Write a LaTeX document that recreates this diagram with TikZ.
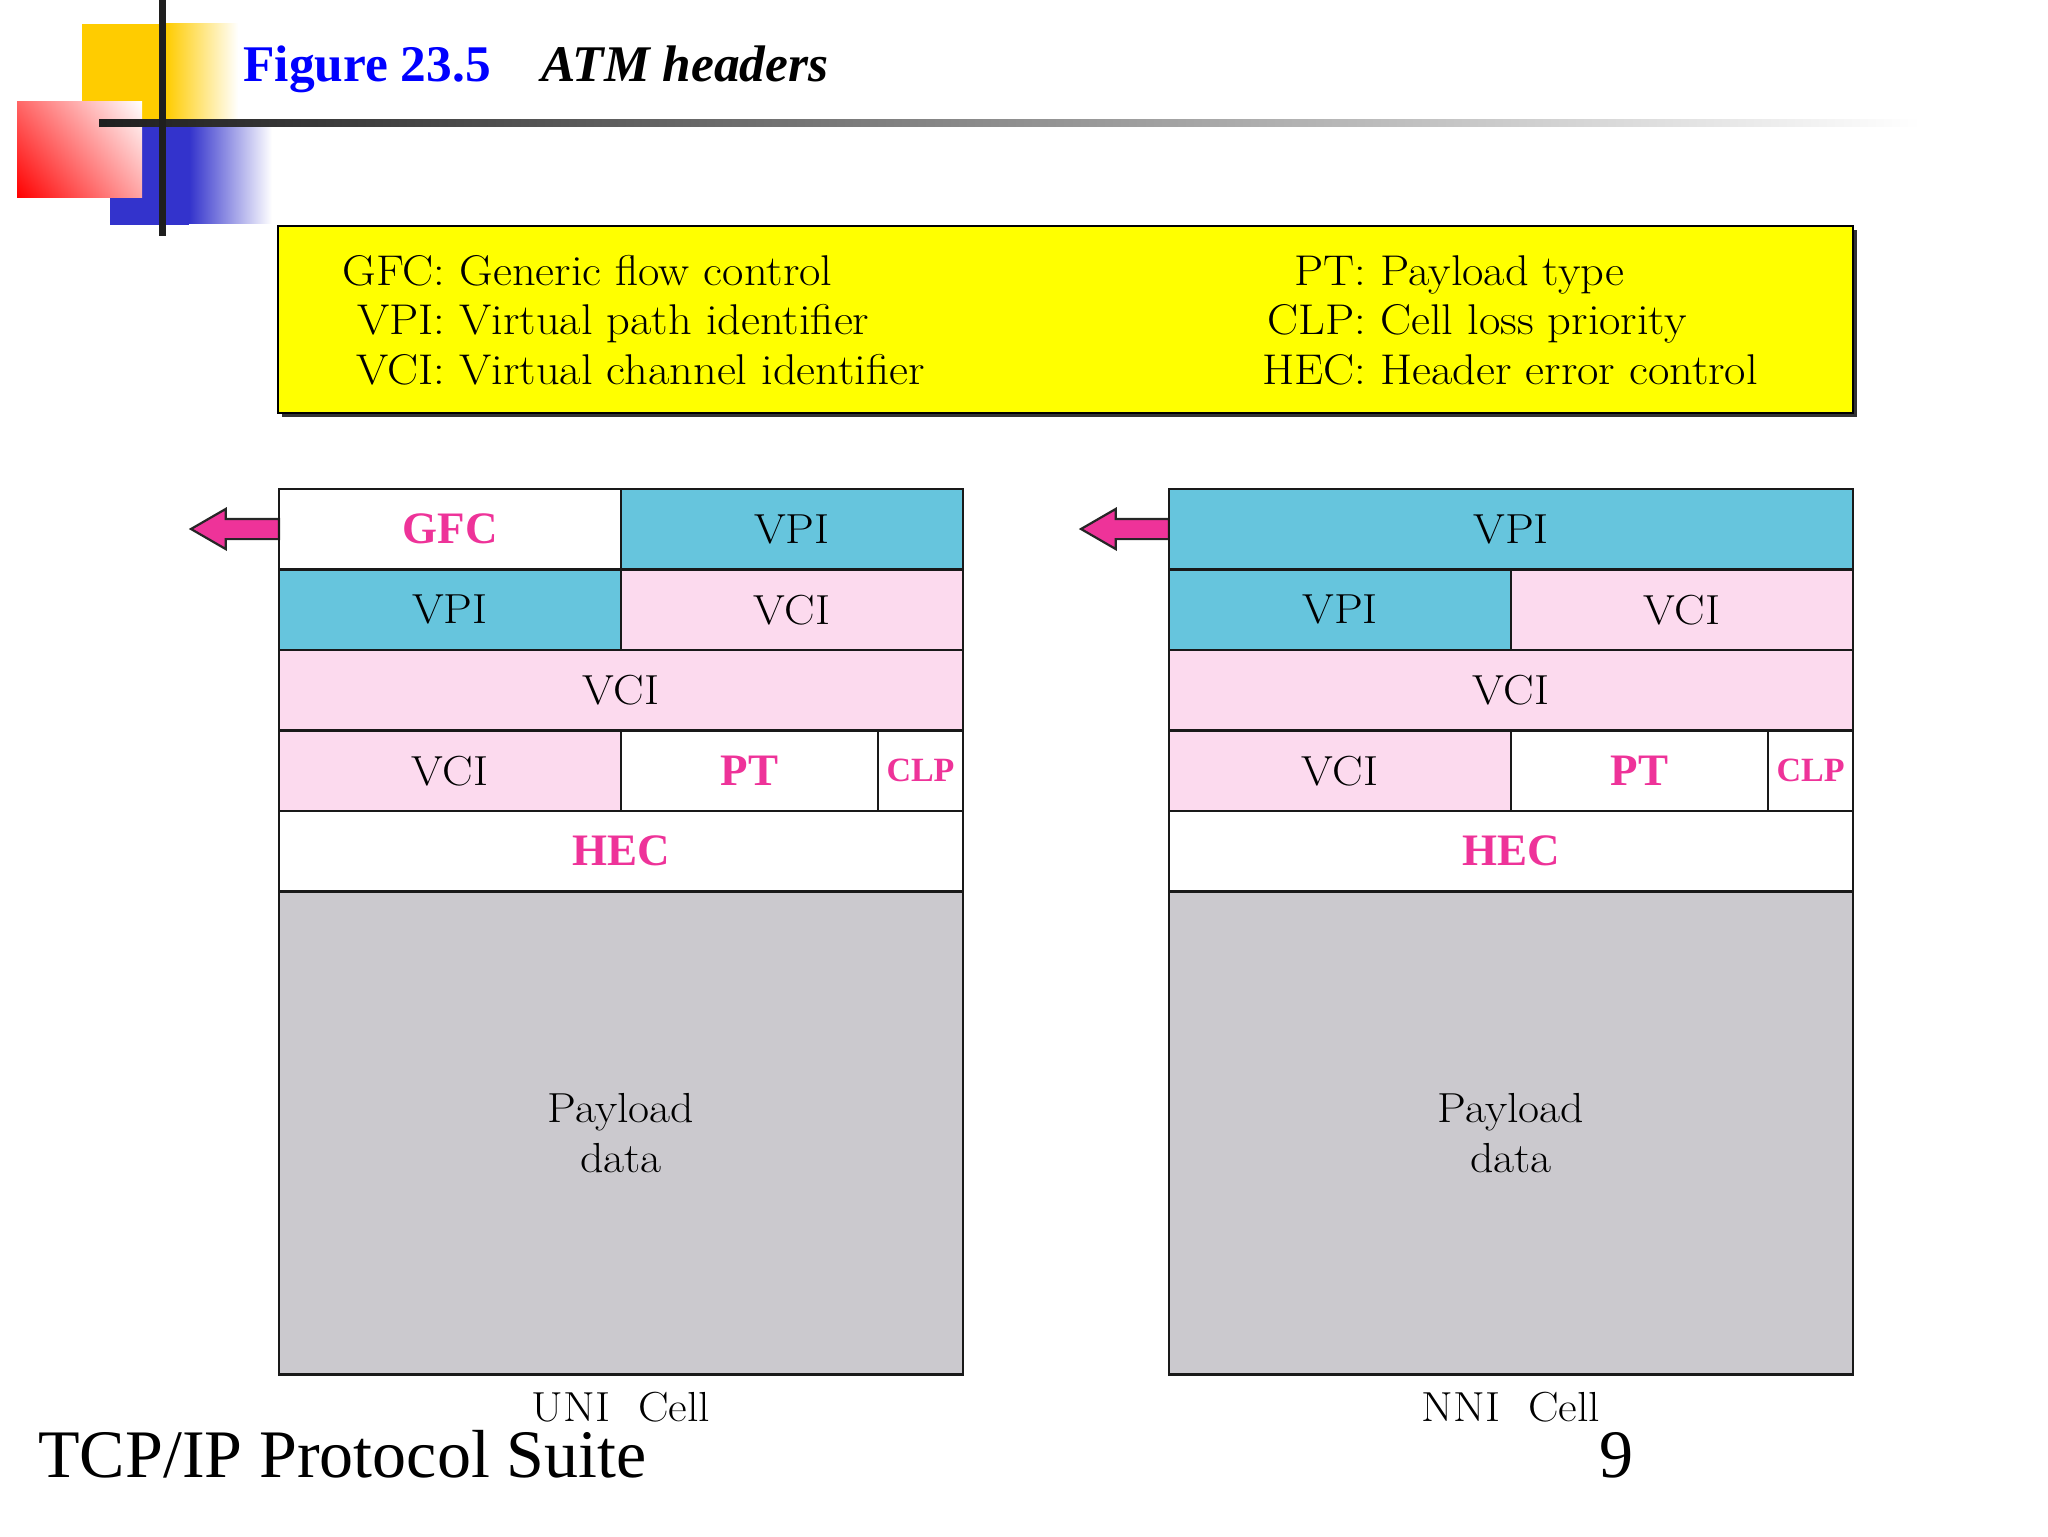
\documentclass[tikz,border=0pt]{standalone}
\usepackage{fontspec}
\usepackage{array}
\usetikzlibrary{shapes.arrows,positioning,shadows,shadings}
\newfontfamily\timesfont{Liberation Serif}
\newfontfamily\cellfont[FakeStretch=1.09]{Latin Modern Roman}
\newfontfamily\legendfont[FakeStretch=1.08]{Latin Modern Roman}
\definecolor{vpicol}{HTML}{66C5DD}
\definecolor{vcicol}{HTML}{FCDAEE}
\definecolor{loadcol}{HTML}{CBC9CE}
\definecolor{markcol}{HTML}{EE3399}
\definecolor{goldcol}{HTML}{FFCC00}
\definecolor{bluecol}{HTML}{3333CC}
\definecolor{legendcol}{HTML}{FFFF00}
\begin{document}
\begin{tikzpicture}
    [
      x=0.5pt, y=-0.5pt,
      cell/.style={rectangle, draw=black!90, line width=1.4pt, inner sep=0pt, outer sep=0pt,
        minimum height=40.25pt, font=\cellfont\fontsize{21}{25}\selectfont},
      half/.style={cell, minimum width=171pt},
      full/.style={cell, minimum width=342pt},
      vpi/.style={fill=vpicol},
      vci/.style={fill=vcicol},
      marktext/.style={font=\timesfont\bfseries\fontsize{#1}{#1}\selectfont, text=markcol},
      marktext/.default=22.5,
      legend/.style={inner sep=0pt, font=\legendfont\fontsize{21.5}{24.6}\selectfont},
      caption/.style={inner sep=0pt, font=\cellfont\fontsize{21}{25}\selectfont},
      footer/.style={inner sep=0pt, anchor=base west, font=\timesfont\fontsize{34}{34}\selectfont},
      cellarrow/.style={single arrow, draw=black!85, line width=1.1pt, inner sep=0pt, inner ysep=4.5pt, outer sep=0pt,
        shape border rotate=180, minimum height=44pt,
        single arrow head extend=5pt, single arrow head indent=0pt, single arrow tip angle=60,
        fill=markcol}
    ]
    \useasboundingbox (0,0) rectangle (2048,1536);
    % corner decoration
    \fill [goldcol] (82,24) rectangle (166,130);
    \shade [left color=goldcol, right color=white] (166,24) rectangle (238,130);
    \fill [bluecol] (110,125) rectangle (189,225);
    \shade [left color=bluecol, right color=white] (189,125) rectangle (272,223);
    \shade [lower left=red, upper left=red!60!white, lower right=red!35!white, upper right=white]
      (17,102) rectangle (142,197);
    \shade [left color=black!88, right color=white] (99,119.5) rectangle (1920,126.5);
    \fill [black!88] (158.5,0) rectangle (165.5,236);
    % title
    \node (fignum) [anchor=base west, inner sep=0pt, text=blue,
      font=\timesfont\bfseries\fontsize{25.7}{25.7}\selectfont] at (243,82) {Figure 23.5};
    \node (figname) [anchor=base west, inner sep=0pt,
      font=\timesfont\bfseries\itshape\fontsize{25.7}{25.7}\selectfont] at (541,82) {ATM headers};
    % legend
    \node (legend) [rectangle, draw=black, line width=1.4pt, fill=legendcol, anchor=north west, outer sep=0pt,
      minimum width=787.5pt, minimum height=93.5pt,
      drop shadow={shadow xshift=2pt, shadow yshift=-2pt, opacity=0.8, fill=black}] at (278,226) {};
    \node (legendl) [legend, anchor=west] at (342,325) {\begin{tabular}{@{}r@{: }l@{}}
      GFC & Generic flow control\\ VPI & Virtual path identifier\\ VCI & Virtual channel identifier\end{tabular}};
    \node (legendr) [legend, anchor=west] at (1262,325) {\begin{tabular}{@{}r@{: }l@{}}
      PT & Payload type\\ CLP & Cell loss priority\\ HEC & Header error control\end{tabular}};
    % first rows of the two cells
    \node (uarrow) [cellarrow, anchor=east] at (279,529) {};
    \node (narrow) [cellarrow, anchor=east] at (1169,529) {};
    \node (ugfc) [half, anchor=north west, marktext] at (279,489) {GFC};
    \node (uvpia) [half, vpi, right=0pt of ugfc] {VPI};
    \node (uvpib) [half, vpi, below=0pt of ugfc] {VPI};
    \node (uvcib) [half, vci, right=0pt of uvpib] {VCI};
    \node (nvpia) [full, vpi, anchor=north west] at (1169,489) {VPI};
    \node (nvpib) [half, vpi, below=0pt of nvpia.south west, anchor=north west] {VPI};
    \node (nvcib) [half, vci, right=0pt of nvpib] {VCI};
    % rows that are the same in both cells
    \foreach \p/\celltype in {u/UNI,n/NNI} {
      \node (\p vcic) [full, vci, below=0pt of \p vpib.south east] {VCI};
      \node (\p vcid) [half, vci, below=0pt of \p vcic.south west, anchor=north west] {VCI};
      \node (\p pt) [cell, minimum width=128.5pt, right=0pt of \p vcid, marktext] {PT};
      \node (\p clp) [cell, minimum width=42.5pt, right=0pt of \p pt, marktext=17] {CLP};
      \node (\p hec) [full, below=0pt of \p vcid.south east, marktext] {HEC};
      \node (\p load) [full, fill=loadcol, minimum height=241.5pt, below=0pt of \p hec, align=center] {Payload\\data};
      \node (\p cap) [caption, below=8.5pt of \p load] {\celltype\ \ Cell};
    }
    % footer
    \node (suite) [footer] at (38,1477) {TCP/IP Protocol Suite};
    \node (page) [footer] at (1599,1477) {9};
\end{tikzpicture}
\end{document}
